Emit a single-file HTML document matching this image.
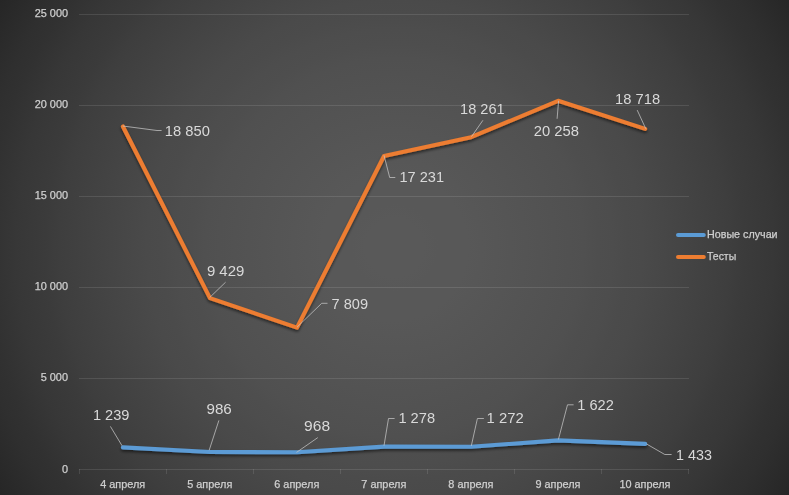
<!DOCTYPE html>
<html lang="ru">
<head>
<meta charset="utf-8">
<title>Chart</title>
<style>
html,body{margin:0;padding:0;background:#262626;}
body{width:789px;height:495px;overflow:hidden;font-family:"Liberation Sans", sans-serif;}
svg{display:block;}
text{font-family:"Liberation Sans", sans-serif;}
.t{opacity:0.999;}
.ax{stroke:#cfcfcf;stroke-width:0.25px;}
</style>
</head>
<body>
<svg width="789" height="495" viewBox="0 0 789 495">
<defs>
<radialGradient id="bg" gradientUnits="userSpaceOnUse" cx="394.5" cy="247.5" r="466.0">
<stop offset="0.0000" stop-color="#595959"/>
<stop offset="0.0312" stop-color="#595959"/>
<stop offset="0.0625" stop-color="#595959"/>
<stop offset="0.0938" stop-color="#585858"/>
<stop offset="0.1250" stop-color="#585858"/>
<stop offset="0.1562" stop-color="#585858"/>
<stop offset="0.1875" stop-color="#575757"/>
<stop offset="0.2188" stop-color="#565656"/>
<stop offset="0.2500" stop-color="#555555"/>
<stop offset="0.2812" stop-color="#545454"/>
<stop offset="0.3125" stop-color="#535353"/>
<stop offset="0.3438" stop-color="#525252"/>
<stop offset="0.3750" stop-color="#515151"/>
<stop offset="0.4062" stop-color="#505050"/>
<stop offset="0.4375" stop-color="#4e4e4e"/>
<stop offset="0.4688" stop-color="#4d4d4d"/>
<stop offset="0.5000" stop-color="#4b4b4b"/>
<stop offset="0.5312" stop-color="#4a4a4a"/>
<stop offset="0.5625" stop-color="#484848"/>
<stop offset="0.5938" stop-color="#464646"/>
<stop offset="0.6250" stop-color="#444444"/>
<stop offset="0.6562" stop-color="#424242"/>
<stop offset="0.6875" stop-color="#404040"/>
<stop offset="0.7188" stop-color="#3e3e3e"/>
<stop offset="0.7500" stop-color="#3b3b3b"/>
<stop offset="0.7812" stop-color="#393939"/>
<stop offset="0.8125" stop-color="#373737"/>
<stop offset="0.8438" stop-color="#343434"/>
<stop offset="0.8750" stop-color="#313131"/>
<stop offset="0.9062" stop-color="#2f2f2f"/>
<stop offset="0.9375" stop-color="#2c2c2c"/>
<stop offset="0.9688" stop-color="#292929"/>
<stop offset="1.0000" stop-color="#262626"/>
</radialGradient>
<filter id="sh" x="-5%" y="-5%" width="110%" height="115%">
<feGaussianBlur in="SourceAlpha" stdDeviation="1.6" result="b"/>
<feOffset in="b" dx="0" dy="1.5" result="ob"/>
<feComponentTransfer in="ob" result="sb"><feFuncA type="linear" slope="0.55"/></feComponentTransfer>
<feMerge><feMergeNode in="sb"/><feMergeNode in="SourceGraphic"/></feMerge>
</filter>
</defs>
<rect x="0" y="0" width="789" height="495" fill="url(#bg)"/>

<g stroke="#f2f2f2" stroke-width="1" stroke-opacity="0.115" fill="none" shape-rendering="crispEdges">
<line x1="79" y1="378.5" x2="689" y2="378.5"/>
<line x1="79" y1="287.5" x2="689" y2="287.5"/>
<line x1="79" y1="196.5" x2="689" y2="196.5"/>
<line x1="79" y1="105.5" x2="689" y2="105.5"/>
<line x1="79" y1="14.5" x2="689" y2="14.5"/>
<line x1="79" y1="469.5" x2="689" y2="469.5"/>
<line x1="79.5" y1="469" x2="79.5" y2="474"/>
<line x1="166.5" y1="469" x2="166.5" y2="474"/>
<line x1="253.5" y1="469" x2="253.5" y2="474"/>
<line x1="340.5" y1="469" x2="340.5" y2="474"/>
<line x1="427.5" y1="469" x2="427.5" y2="474"/>
<line x1="514.5" y1="469" x2="514.5" y2="474"/>
<line x1="601.5" y1="469" x2="601.5" y2="474"/>
<line x1="688.5" y1="469" x2="688.5" y2="474"/>
</g>
<g class="t ax" fill="#cfcfcf" font-size="10.9" text-anchor="end">
<text x="68.0" y="472.55">0</text>
<text x="68.0" y="381.40">5 000</text>
<text x="68.0" y="290.25">10 000</text>
<text x="68.0" y="199.10">15 000</text>
<text x="68.0" y="107.95">20 000</text>
<text x="68.0" y="16.80">25 000</text>
</g>
<g class="t ax" fill="#cfcfcf" font-size="10.9" text-anchor="middle">
<text x="122.72" y="487.8">4 апреля</text>
<text x="209.76" y="487.8">5 апреля</text>
<text x="296.81" y="487.8">6 апреля</text>
<text x="383.85" y="487.8">7 апреля</text>
<text x="470.89" y="487.8">8 апреля</text>
<text x="557.94" y="487.8">9 апреля</text>
<text x="644.98" y="487.8">10 апреля</text>
</g>
<g fill="none" stroke-width="4.1" stroke-linecap="round" stroke-linejoin="round" filter="url(#sh)">
<path d="M122.92 447.37 L209.96 451.98 L297.01 452.31 L384.05 446.66 L471.09 446.77 L558.14 440.39 L645.18 443.84" stroke="#5b9bd5"/>
<path d="M122.92 126.47 L209.96 298.13 L297.01 327.65 L384.05 155.97 L471.09 137.20 L558.14 100.81 L645.18 128.87" stroke="#ed7d31"/>
</g>
<g fill="none" stroke="#c6c6c6" stroke-width="0.75" stroke-linejoin="round">
<polyline points="122.8,126.0 157.0,130.5 161.6,130.5"/>
<polyline points="209.7,297.5 225.6,282.2"/>
<polyline points="297.1,327.1 321.7,303.3 327.5,303.3"/>
<polyline points="384.0,155.3 389.7,177.5 395.3,177.5"/>
<polyline points="471.5,136.7 482.9,120.3"/>
<polyline points="558.6,100.8 557.1,118.8"/>
<polyline points="645.8,128.8 637.2,110.1"/>
<polyline points="122.0,445.7 110.4,426.4"/>
<polyline points="209.2,450.2 218.9,420.4"/>
<polyline points="296.5,452.4 317.8,437.6"/>
<polyline points="384.0,445.7 388.5,418.5 394.6,418.5"/>
<polyline points="471.3,445.9 477.4,418.5 483.9,418.5"/>
<polyline points="558.4,439.5 567.5,404.8 573.6,404.8"/>
<polyline points="646.6,444.0 664.8,454.5 671.6,454.5"/>
</g>
<g class="t" fill="#d9d9d9" font-size="14.3">
<text x="164.8" y="136.2" textLength="45.1" lengthAdjust="spacingAndGlyphs">18 850</text>
<text x="206.9" y="276.2" textLength="37.4" lengthAdjust="spacingAndGlyphs">9 429</text>
<text x="331.5" y="308.9" textLength="36.5" lengthAdjust="spacingAndGlyphs">7 809</text>
<text x="399.4" y="182.0" textLength="44.6" lengthAdjust="spacingAndGlyphs">17 231</text>
<text x="460.1" y="113.9" textLength="44.5" lengthAdjust="spacingAndGlyphs">18 261</text>
<text x="533.7" y="136.3" textLength="45.2" lengthAdjust="spacingAndGlyphs">20 258</text>
<text x="615.1" y="104.0" textLength="45.0" lengthAdjust="spacingAndGlyphs">18 718</text>
<text x="92.9" y="420.0" textLength="36.5" lengthAdjust="spacingAndGlyphs">1 239</text>
<text x="206.5" y="414.3" textLength="25.3" lengthAdjust="spacingAndGlyphs">986</text>
<text x="304.1" y="431.1" textLength="26.0" lengthAdjust="spacingAndGlyphs">968</text>
<text x="398.4" y="423.1" textLength="36.7" lengthAdjust="spacingAndGlyphs">1 278</text>
<text x="486.6" y="423.1" textLength="37.1" lengthAdjust="spacingAndGlyphs">1 272</text>
<text x="577.3" y="410.3" textLength="36.5" lengthAdjust="spacingAndGlyphs">1 622</text>
<text x="676.1" y="460.3" textLength="35.8" lengthAdjust="spacingAndGlyphs">1 433</text>
</g>
<g fill="none" stroke-width="4" stroke-linecap="round">
<line x1="678" y1="234.9" x2="703.8" y2="234.9" stroke="#5b9bd5"/>
<line x1="678" y1="257.0" x2="703.8" y2="257.0" stroke="#ed7d31"/>
</g>
<g class="t ax" fill="#cfcfcf" font-size="10.9">
<text x="707" y="238.0" textLength="70.6" lengthAdjust="spacingAndGlyphs">Новые случаи</text>
<text x="707" y="259.8" textLength="29.2" lengthAdjust="spacingAndGlyphs">Тесты</text>
</g>
</svg>
</body>
</html>
